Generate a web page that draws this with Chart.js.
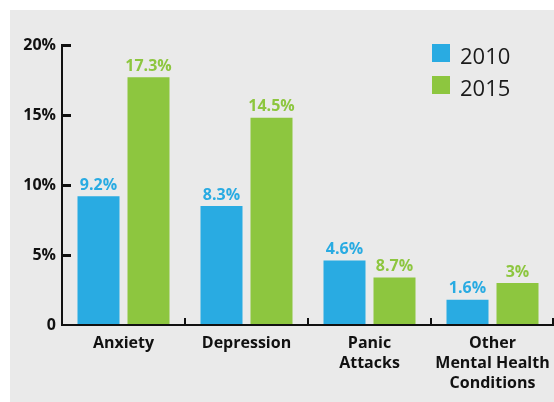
<!DOCTYPE html>
<html>
<head>
<meta charset="utf-8">
<script src="https://cdn.jsdelivr.net/npm/chart.js@4.4.1/dist/chart.umd.min.js"></script>
<style>
  html, body { margin: 0; padding: 0; background: #fff; }
  #wrap { position: relative; width: 554px; height: 402px; }
  #panel { position: absolute; left: 10px; top: 10px; width: 544px; height: 392px; background: #eaeaea; }
  #myChart { position: absolute; left: 0; top: 0; }
  .leg { position: absolute; left: 432px; font: 400 22px "Open Sans", sans-serif; color: #1a1a1a; }
  .leg span { display: inline-block; width: 18px; height: 18px; vertical-align: top; margin-right: 10px; margin-top: 4px; }
</style>
</head>
<body>
<div id="wrap">
  <div id="panel"></div>
  <canvas id="myChart" width="554" height="402"></canvas>
  <div class="leg" style="top:40px"><span style="background:#29abe2"></span>2010</div>
  <div class="leg" style="top:72px"><span style="background:#8dc63f"></span>2015</div>
</div>
<script>
// categories + series
const categories = [['Anxiety'], ['Depression'], ['Panic', 'Attacks'], ['Other', 'Mental Health', 'Conditions']];
// bar heights as drawn in the picture (the printed labels do not all agree with them)
const values2010 = [9.2, 8.5, 4.6, 1.8];
const values2015 = [17.7, 14.8, 3.4, 3.0];
// printed value labels
const labels2010 = ['9.2%', '8.3%', '4.6%', '1.6%'];
const labels2015 = ['17.3%', '14.5%', '8.7%', '3%'];
const yTicks = [0, 5, 10, 15, 20];

const blue = '#29abe2';
const green = '#8dc63f';
const fontFam = '"Open Sans", sans-serif';

// value labels above bars + axis lines and inward ticks
const decor = {
    id: 'decor',
    afterDatasetsDraw(chart) {
        const ctx = chart.ctx;
        const area = chart.chartArea;
        const xs = chart.scales.x, ys = chart.scales.y;
        ctx.save();
        ctx.textAlign = 'center';
        ctx.textBaseline = 'bottom';
        ctx.font = 'bold 16px ' + fontFam;
        [labels2010, labels2015].forEach((lbls, di) => {
            const meta = chart.getDatasetMeta(di);
            ctx.fillStyle = di === 0 ? blue : green;
            meta.data.forEach((bar, i) => {
                ctx.fillText(lbls[i], bar.x, bar.y - 3);
            });
        });
        ctx.fillStyle = '#111';
        // y axis
        ctx.fillRect(area.left - 1, area.top - 1, 2, area.bottom - area.top + 2);
        // x axis
        ctx.fillRect(area.left - 1, area.bottom - 1, area.right - area.left + 1, 2);
        // y ticks (inward)
        yTicks.forEach(v => {
            if (v === 0) return;
            const y = ys.getPixelForValue(v);
            ctx.fillRect(area.left, Math.round(y) - 1, 9, 3);
        });
        // x category boundary ticks (upward)
        const n = categories.length;
        for (let i = 1; i <= n; i++) {
            const x = i < n ? (xs.getPixelForValue(i - 1) + xs.getPixelForValue(i)) / 2
                            : xs.getPixelForValue(n - 1) + (xs.getPixelForValue(1) - xs.getPixelForValue(0)) / 2;
            ctx.fillRect(Math.min(Math.round(x) - 1, area.right - 2), area.bottom - 7, 2, 7);
        }
        ctx.restore();
    }
};

const ctx = document.getElementById('myChart');
new Chart(ctx, {
    type: 'bar',
    data: {
        labels: categories,
        datasets: [
            { label: '2010', data: values2010, backgroundColor: blue, categoryPercentage: 0.813, barPercentage: 0.84 },
            { label: '2015', data: values2015, backgroundColor: green, categoryPercentage: 0.813, barPercentage: 0.84 }
        ]
    },
    options: {
        responsive: false,
        animation: false,
        layout: { padding: { top: 45, right: 0, bottom: 0, left: 0 } },
        plugins: {
            legend: { display: false },
            tooltip: { enabled: false }
        },
        scales: {
            x: {
                grid: { display: false, drawTicks: false },
                border: { display: false },
                ticks: {
                    color: '#111',
                    font: { family: fontFam, size: 16, weight: 'bold', lineHeight: 1.25 },
                    padding: 8,
                    maxRotation: 0
                },
                afterFit: s => { s.height = 77; s.paddingLeft = 0; s.paddingRight = 0; }
            },
            y: {
                min: 0,
                max: 20,
                grid: { display: false, drawTicks: false },
                border: { display: false },
                ticks: {
                    stepSize: 5,
                    color: '#111',
                    font: { family: fontFam, size: 16, weight: 'bold' },
                    padding: 6,
                    callback: v => v === 0 ? '0' : v + '%'
                },
                afterFit: s => { s.width = 62; s.paddingTop = 0; s.paddingBottom = 0; }
            }
        }
    },
    plugins: [decor]
});
</script>
</body>
</html>
